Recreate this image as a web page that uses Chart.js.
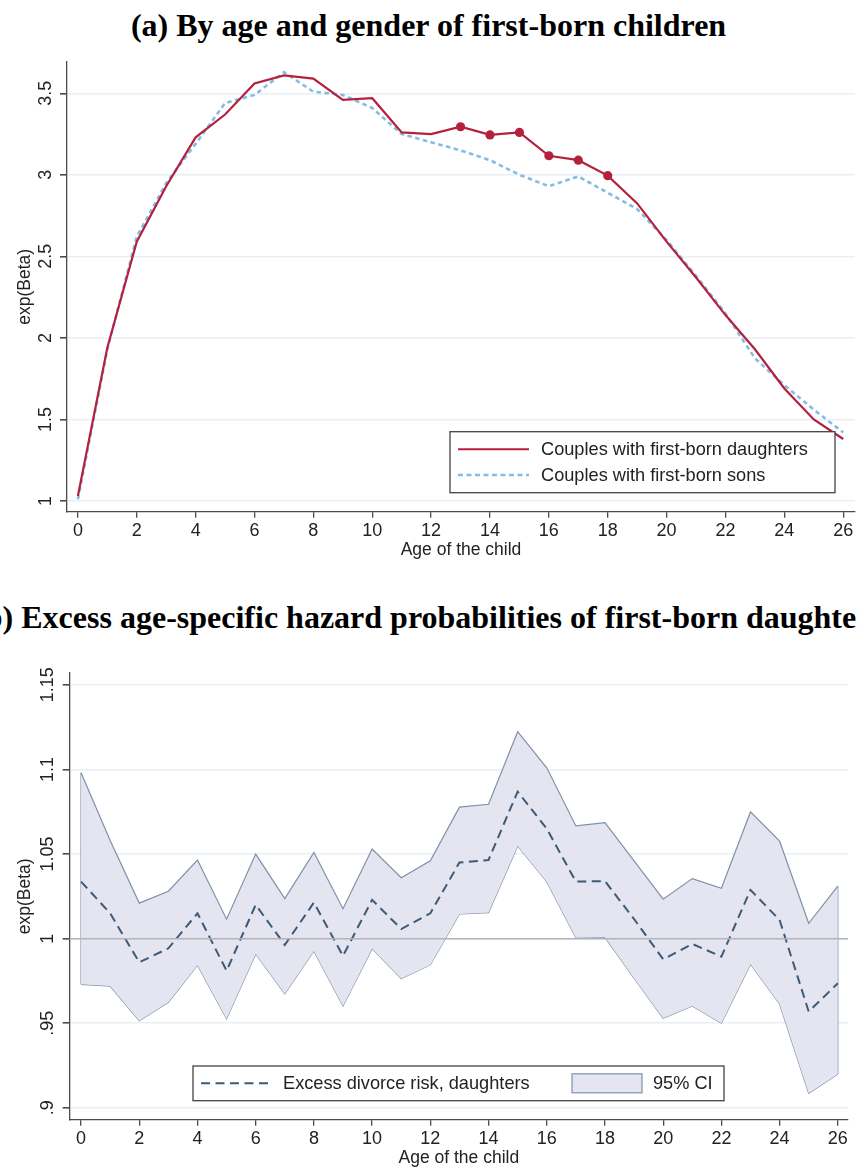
<!DOCTYPE html>
<html>
<head>
<meta charset="utf-8">
<script src="https://cdn.jsdelivr.net/npm/chart.js@4.4.1/dist/chart.umd.min.js"></script>
<style>
  html, body { margin:0; padding:0; background:#fff; }
  body { width:857px; height:1171px; position:relative; overflow:hidden; }
  .ttl { position:absolute; left:0; width:857px; height:40px; overflow:hidden; }
  .ttl span { position:absolute; left:50%; top:0; transform:translateX(-50%); white-space:nowrap;
    font:bold 32px "Liberation Serif", "Times New Roman", serif; line-height:40px; color:#000; }
  canvas { position:absolute; left:0; }
</style>
</head>
<body>
<div class="ttl" style="top:5px"><span>(a) By age and gender of first-born children</span></div>
<canvas id="chart-a" width="857" height="525" style="top:50px"></canvas>
<div class="ttl" style="top:597px"><span>(b) Excess age-specific hazard probabilities of first-born daughters</span></div>
<canvas id="chart-b" width="857" height="511" style="top:660px"></canvas>
<script>
// ====== данные ======
const ages = [0,1,2,3,4,5,6,7,8,9,10,11,12,13,14,15,16,17,18,19,20,21,22,23,24,25,26];
const xTicks = [0,2,4,6,8,10,12,14,16,18,20,22,24,26];
const xTickLabels = ['0','2','4','6','8','10','12','14','16','18','20','22','24','26'];

// (a) exp(Beta) по полу первенца
const daughters = [1.03,1.94,2.59,2.93,3.23,3.37,3.56,3.61,3.59,3.46,3.47,3.26,3.25,3.295,3.245,3.26,3.117,3.09,2.995,2.825,2.59,2.37,2.14,1.93,1.69,1.50,1.38];
const sons      = [1.01,1.93,2.62,2.95,3.19,3.44,3.49,3.63,3.51,3.49,3.41,3.25,3.20,3.15,3.09,3.00,2.93,2.99,2.89,2.79,2.60,2.38,2.15,1.875,1.71,1.56,1.42];
const sigAges   = [13,14,15,16,17,18];
const yTicksA = [1,1.5,2,2.5,3,3.5];
const yLabelsA = ['1','1.5','2','2.5','3','3.5'];

// (b) избыточный риск, дочери, 95% CI
const excess  = [1.0337,1.015,0.986,0.9943,1.015,0.981,1.020,0.9963,1.0213,0.9898,1.0229,1.0057,1.015,1.045,1.0465,1.0869,1.065,1.0337,1.034,1.0116,0.9878,0.9969,0.9894,1.0288,1.011,0.9569,0.9736];
const ciUpper = [1.098,1.058,1.021,1.028,1.0465,1.0115,1.050,1.0237,1.051,1.0177,1.053,1.036,1.046,1.0777,1.0794,1.1223,1.101,1.0666,1.0686,1.046,1.0233,1.0355,1.0298,1.0749,1.0576,1.0091,1.0311];
const ciLower = [0.973,0.972,0.9515,0.9624,0.9843,0.9527,0.991,0.9675,0.9927,0.9602,0.9941,0.9764,0.9845,1.0146,1.0154,1.0548,1.0337,1.0006,1.0008,0.9766,0.953,0.9602,0.95,0.9849,0.9614,0.9086,0.92];
const yTicksB = [0.9,0.95,1,1.05,1.1,1.15];
const yLabelsB = ['.9','.95','1','1.05','1.1','1.15'];
const refLine = 1;

// ====== стиль ======
const RED = '#b5213d', BLUE = '#85bce2';
const DASH_C = '#3e5a77', CI_LINE = '#7f92a7', CI_FILL = '#e4e5f1';
const AXIS_C = '#4a4a4a', GRID_C = '#e9eff3', TXT = '#222';
const FONT = '"Liberation Sans", Arial, sans-serif';

const pts = (ys) => ys.map((y,i) => ({x: ages[i], y}));

// подписи оси Y повёрнутые, как в Stata
const yLabelsPlugin = {
  id: 'ylabels',
  afterDraw(chart, args, opts){
    const {ctx, chartArea} = chart;
    const sc = chart.scales.y;
    ctx.save();
    ctx.fillStyle = TXT;
    ctx.font = '18px ' + FONT;
    ctx.textAlign = 'center';
    ctx.textBaseline = 'middle';
    opts.values.forEach((v,i) => {
      ctx.save();
      ctx.translate(chartArea.left - opts.dx, sc.getPixelForValue(v));
      ctx.rotate(-Math.PI/2);
      ctx.fillText(opts.labels[i], 0, 0);
      ctx.restore();
    });
    ctx.restore();
  }
};

// легенда внутри области графика
const boxLegend = {
  id: 'boxLegend',
  afterDraw(chart, args, o){
    if (!o.items) return;
    const ctx = chart.ctx;
    ctx.save();
    ctx.fillStyle = '#fff';
    ctx.fillRect(o.x, o.y, o.w, o.h);
    ctx.strokeStyle = '#444'; ctx.lineWidth = 1.3;
    ctx.strokeRect(o.x, o.y, o.w, o.h);
    ctx.font = '18.2px ' + FONT;
    ctx.textBaseline = 'middle';
    o.items.forEach(it => {
      if (it.kind === 'line'){
        ctx.strokeStyle = it.color; ctx.lineWidth = it.width;
        ctx.setLineDash(it.dash || []);
        ctx.beginPath(); ctx.moveTo(it.x0, it.y); ctx.lineTo(it.x1, it.y); ctx.stroke();
        ctx.setLineDash([]);
      } else {
        ctx.fillStyle = it.fill; ctx.fillRect(it.x0, it.y - 9.5, it.x1 - it.x0, 19);
        ctx.strokeStyle = it.color; ctx.lineWidth = 1.2;
        ctx.strokeRect(it.x0, it.y - 9.5, it.x1 - it.x0, 19);
      }
      ctx.fillStyle = TXT;
      ctx.fillText(it.text, it.tx, it.y + 1);
    });
    ctx.restore();
  }
};

const refLinePlugin = {
  id: 'refLine',
  afterDatasetsDraw(chart, args, o){
    if (o.value == null) return;
    const {ctx, chartArea} = chart;
    const y = chart.scales.y.getPixelForValue(o.value);
    ctx.save();
    ctx.strokeStyle = '#b4b4b4'; ctx.lineWidth = 1.5;
    ctx.beginPath(); ctx.moveTo(chartArea.left, y); ctx.lineTo(chartArea.right, y); ctx.stroke();
    ctx.restore();
  }
};

function makeScales(xmin, xmax, ymin, ymax, yTicks, yWidth, xHeight){
  return {
    x: {
      type: 'linear', min: xmin, max: xmax,
      afterBuildTicks: s => { s.ticks = xTicks.map(v => ({value: v})); },
      afterFit: s => { s.height = xHeight; },
      grid: { drawOnChartArea: false, drawTicks: true, tickLength: 6, tickColor: AXIS_C, lineWidth: 1.3 },
      border: { display: true, color: AXIS_C, width: 1.3 },
      ticks: { autoSkip: false, maxRotation: 0, padding: 3, color: TXT, font: {family: FONT, size: 18},
               callback: (v, i) => xTickLabels[i] },
      title: { display: true, text: 'Age of the child', color: TXT, padding: 0, font: {family: FONT, size: 17.5} }
    },
    y: {
      type: 'linear', min: ymin, max: ymax,
      afterBuildTicks: s => { s.ticks = yTicks.map(v => ({value: v})); },
      afterFit: s => { s.width = yWidth; },
      grid: { color: GRID_C, lineWidth: 1.6, drawTicks: true, tickLength: 7, tickColor: AXIS_C },
      border: { display: true, color: AXIS_C, width: 1.3 },
      ticks: { display: false },
      title: { display: true, text: 'exp(Beta)', color: TXT, padding: 0, font: {family: FONT, size: 17.5} }
    }
  };
}

// ====== (a) ======
new Chart(document.getElementById('chart-a'), {
  type: 'line',
  data: { datasets: [
    { label: 'Couples with first-born daughters', data: pts(daughters), borderColor: RED, backgroundColor: RED,
      borderWidth: 2.2, tension: 0, fill: false,
      pointRadius: c => sigAges.includes(ages[c.dataIndex]) ? 4.6 : 0, pointBorderWidth: 0, pointBackgroundColor: RED },
    { label: 'Couples with first-born sons', data: pts(sons), borderColor: BLUE, borderWidth: 2.6,
      borderDash: [4.5, 3.5], tension: 0, fill: false, pointRadius: 0 }
  ]},
  options: {
    responsive: false, animation: false,
    layout: { padding: { left: 15, right: 2, top: 12, bottom: 14.5 } },
    scales: makeScales(-0.37, 26.4, 0.934, 3.692, yTicksA, 52, 48.8),
    plugins: {
      legend: { display: false }, tooltip: { enabled: false },
      ylabels: { values: yTicksA, labels: yLabelsA, dx: 21 },
      boxLegend: { x: 450, y: 381.7, w: 385, h: 61, items: [
        { kind: 'line', color: RED, width: 2, x0: 458, x1: 529, y: 399.3, text: 'Couples with first-born daughters', tx: 541 },
        { kind: 'line', color: BLUE, width: 2.6, dash: [5, 3.5], x0: 458, x1: 529, y: 425, text: 'Couples with first-born sons', tx: 541 }
      ]}
    }
  },
  plugins: [yLabelsPlugin, boxLegend]
});

// ====== (b) ======
new Chart(document.getElementById('chart-b'), {
  type: 'line',
  data: { datasets: [
    { label: 'Excess divorce risk, daughters', data: pts(excess), borderColor: DASH_C, borderWidth: 2,
      borderDash: [9, 5.5], tension: 0, fill: false, pointRadius: 0 },
    { label: '95% CI', data: pts(ciUpper), borderColor: CI_LINE, borderWidth: 1.2, backgroundColor: CI_FILL,
      tension: 0, fill: '+1', pointRadius: 0 },
    { label: 'lower', data: pts(ciLower), borderColor: CI_LINE, borderWidth: 1.2, tension: 0, fill: false, pointRadius: 0 },
    // края полосы CI при 0 и 26
    { label: 'edge0', data: [{x: ages[0], y: ciLower[0]}, {x: ages[0], y: ciUpper[0]}],
      borderColor: CI_LINE, borderWidth: 1.2, fill: false, pointRadius: 0 },
    { label: 'edge26', data: [{x: ages[ages.length-1], y: ciLower[ages.length-1]}, {x: ages[ages.length-1], y: ciUpper[ages.length-1]}],
      borderColor: CI_LINE, borderWidth: 1.2, fill: false, pointRadius: 0 }
  ]},
  options: {
    responsive: false, animation: false,
    layout: { padding: { left: 15, right: 9, top: 13, bottom: 2.3 } },
    scales: makeScales(-0.39, 26.35, 0.893, 1.157, yTicksB, 54.7, 49),
    plugins: {
      legend: { display: false }, tooltip: { enabled: false },
      refLine: { value: refLine },
      ylabels: { values: yTicksB, labels: yLabelsB, dx: 22 },
      boxLegend: { x: 193, y: 406, w: 531, h: 34.7, items: [
        { kind: 'line', color: DASH_C, width: 2, dash: [9, 5.5], x0: 201, x1: 270, y: 423.3, text: 'Excess divorce risk, daughters', tx: 283 },
        { kind: 'box', color: CI_LINE, fill: CI_FILL, x0: 572, x1: 642, y: 423.3, text: '95% CI', tx: 653 }
      ]}
    }
  },
  plugins: [refLinePlugin, yLabelsPlugin, boxLegend]
});
</script>
</body>
</html>
